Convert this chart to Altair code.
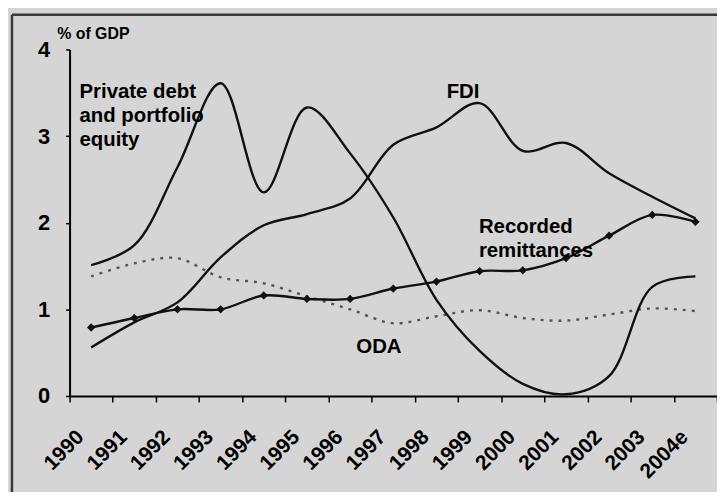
import altair as alt
import pandas as pd

years = ["1990", "1991", "1992", "1993", "1994", "1995", "1996", "1997",
         "1998", "1999", "2000", "2001", "2002", "2003", "2004e"]

fdi = [0.56, 0.85, 1.08, 1.60, 1.97, 2.10, 2.28, 2.90, 3.10, 3.38, 2.83, 2.92, 2.57, 2.30, 2.05]
private = [1.51, 1.74, 2.64, 3.61, 2.35, 3.33, 2.80, 2.06, 1.11, 0.52, 0.14, 0.02, 0.23, 1.26, 1.38]
remit = [0.79, 0.90, 1.00, 1.00, 1.16, 1.12, 1.12, 1.24, 1.32, 1.44, 1.45, 1.59, 1.85, 2.09, 2.01]
oda = [1.38, 1.53, 1.59, 1.37, 1.30, 1.15, 1.00, 0.84, 0.92, 0.99, 0.90, 0.87, 0.94, 1.01, 0.98]

ann_text = ["Private debt", "and portfolio", "equity", "FDI", "Recorded", "remittances", "ODA"]
ann_year = ["1990", "1990", "1990", "1998", "1999", "1999", "1996"]
ann_value = [3.44, 3.16, 2.89, 3.44, 1.88, 1.60, 0.50]
ann_dx = [10, 10, 10, 32, 21, 21, 28]

rows = []
for name, vals in [("FDI", fdi), ("Private", private), ("Remittances", remit), ("ODA", oda)]:
    for y, v in zip(years, vals):
        rows.append({"year": y, "value": v, "series": name})
df = pd.DataFrame(rows)
ann = pd.DataFrame({"text": ann_text, "year": ann_year, "value": ann_value, "dx": ann_dx})

W, H = 652, 349
FONT = "Liberation Sans"

x_enc = alt.X("year:N", sort=years,
              scale=alt.Scale(type="band", domain=years, paddingInner=0, paddingOuter=0),
              axis=alt.Axis(title=None, labelAngle=-45, labelAlign="right", labelBaseline="middle",
                            labelFontSize=21, labelFontWeight="bold", labelFont=FONT,
                            labelColor="#000", labelOffset=-11, labelPadding=32,
                            tickBand="extent", tickSize=6, tickColor="#000", tickWidth=1.5,
                            domainColor="#000", domainWidth=2, labelOverlap=False))
y_enc = alt.Y("value:Q", scale=alt.Scale(domain=[0, 4], nice=False, zero=True),
              axis=alt.Axis(values=[0, 1, 2, 3, 4], format="d", grid=False, tickSize=4,
                            tickColor="#000", tickWidth=1.5, domainColor="#000", domainWidth=2,
                            labelFontSize=22, labelFontWeight="bold", labelFont=FONT,
                            labelColor="#000", labelPadding=16,
                            title="% of GDP", titleAngle=0, titleAlign="left",
                            titleBaseline="bottom", titleX=-13, titleY=-8,
                            titleFontSize=16, titleFontWeight="bold", titleFont=FONT,
                            titleColor="#000"))

base = alt.Chart(df)
one = pd.DataFrame({"k": [0]})

frame_v = alt.Chart(one).mark_rule(color="#3a3a3a", strokeWidth=2.5, clip=False).encode(
    x=alt.value(-58), y=alt.value(-35), y2=alt.value(H + 200)
)
frame_h = alt.Chart(one).mark_rule(color="#3a3a3a", strokeWidth=2.5, clip=False).encode(
    x=alt.value(-58), x2=alt.value(W + 40), y=alt.value(-35)
)

solid = base.transform_filter(alt.datum.series != "ODA").mark_line(
    interpolate="catmull-rom", strokeWidth=2.4, color="#111"
).encode(x=x_enc, y=y_enc, detail="series:N")

dotted = base.transform_filter(alt.datum.series == "ODA").mark_line(
    interpolate="catmull-rom", strokeWidth=2.4, color="#555", strokeDash=[3, 6]
).encode(x=x_enc, y=y_enc)

pts = base.transform_filter(alt.datum.series == "Remittances").mark_point(
    shape="diamond", filled=True, color="#111", size=70, opacity=1
).encode(x=x_enc, y=y_enc)

texts = alt.Chart(ann).mark_text(
    align="left", baseline="alphabetic", fontSize=20.5, fontWeight="bold", font=FONT, color="#000"
).encode(
    x=alt.X("year:N", sort=years), y=alt.Y("value:Q"), text="text:N",
    xOffset=alt.XOffset("dx:Q", scale=None)
)

chart = alt.layer(dotted, solid, pts, texts, frame_v, frame_h).properties(
    width=W, height=H,
    background="#d5d5d5",
    padding={"left": 62, "top": 40, "right": 0, "bottom": 95},
    autosize=alt.AutoSizeParams(type="none"),
).configure_view(stroke=None)

chart.save("out.html", embed_options={"renderer": "svg", "actions": False})
